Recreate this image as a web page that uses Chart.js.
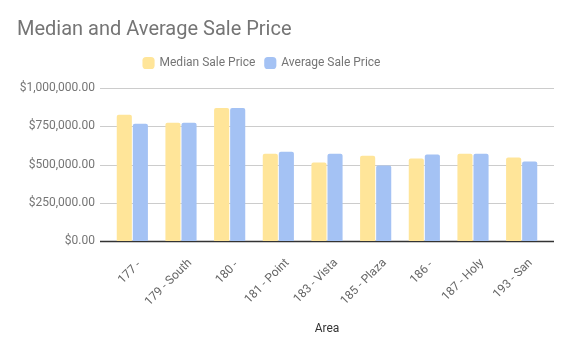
<!DOCTYPE html>
<html>
<head>
<meta charset="utf-8">
<script src="https://cdn.jsdelivr.net/npm/chart.js@4"></script>
<style>
  html, body { margin: 0; padding: 0; background: #fff; }
  #wrap { width: 572px; height: 354px; }
</style>
</head>
<body>
<div id="wrap"><canvas id="chart" width="572" height="354"></canvas></div>
<script>
const areas = ["177 - ", "179 - South", "180 - ", "181 - Point", "183 - Vista", "185 - Plaza", "186 - ", "187 - Holy", "193 - San"];
const medianPrice = [825000, 773000, 870000, 571000, 513000, 558000, 539000, 571000, 545000];
const averagePrice = [766000, 773000, 870000, 584000, 571000, 494000, 565000, 571000, 519000];

const money = (v) => "$" + v.toLocaleString("en-US", { minimumFractionDigits: 2, maximumFractionDigits: 2 });

// gridlines in Sheets run a little past the first and last bar group
const sheetGrid = {
  id: "sheetGrid",
  beforeDatasetsDraw(chart) {
    const { ctx, chartArea } = chart;
    const y = chart.scales.y;
    ctx.save();
    y.ticks.forEach((t) => {
      const py = Math.round(y.getPixelForValue(t.value)) + 0.5;
      ctx.beginPath();
      ctx.strokeStyle = t.value === 0 ? "#333333" : "#cccccc";
      ctx.lineWidth = t.value === 0 ? 1.5 : 1;
      ctx.moveTo(chartArea.left - 8, py);
      ctx.lineTo(chartArea.right + 8, py);
      ctx.stroke();
    });
    ctx.restore();
  },
};

// more room under the legend than above it, title a bit further in,
// legend centred a little left like in Sheets
const sheetLayout = {
  id: "sheetLayout",
  beforeInit(chart) {
    const fit = chart.legend.fit;
    chart.legend.fit = function () {
      fit.bind(chart.legend)();
      this.height += 9;
    };
  },
  afterLayout(chart) {
    chart.titleBlock.left += 5;
    chart.legend.left -= 17;
    chart.legend.right -= 17;
  },
};

const config = {
  type: "bar",
  data: {
    labels: areas,
    datasets: [
      {
        label: "Median Sale Price",
        data: medianPrice,
        backgroundColor: "#ffe599",
        borderRadius: { topLeft: 2, topRight: 2 },
        borderSkipped: "bottom",
      },
      {
        label: "Average Sale Price",
        data: averagePrice,
        backgroundColor: "#a4c2f4",
        borderRadius: { topLeft: 2, topRight: 2 },
        borderSkipped: "bottom",
      },
    ],
  },
  options: {
    responsive: false,
    animation: false,
    datasets: { bar: { categoryPercentage: 0.66, barPercentage: 0.94 } },
    layout: { padding: { left: 12, right: 26, top: 0, bottom: 0 } },
    plugins: {
      title: {
        display: true,
        text: "Median and Average Sale Price",
        align: "start",
        color: "#757575",
        font: { family: "Roboto", size: 20, weight: "normal", lineHeight: 1 },
        padding: { top: 20, bottom: 7 },
      },
      legend: {
        display: true,
        labels: {
          color: "#757575",
          font: { family: "Roboto", size: 12 },
          boxWidth: 10,
          boxHeight: 10,
          usePointStyle: true,
          pointStyle: "rectRounded",
          padding: 10,
        },
      },
      tooltip: { enabled: false },
    },
    scales: {
      x: {
        grid: { display: false, drawTicks: false },
        border: { display: false },
        ticks: {
          color: "#666666",
          font: { family: "Roboto", size: 12 },
          minRotation: 45,
          maxRotation: 45,
          autoSkip: false,
          labelOffset: 9,
          padding: 15,
        },
        title: {
          display: true,
          text: "Area",
          color: "#333333",
          font: { family: "Roboto", size: 12 },
          padding: { top: 0, bottom: 18 },
        },
        afterFit(scale) { scale.height = 113; },
      },
      y: {
        min: 0,
        max: 1000000,
        grid: { display: false, drawTicks: false },
        border: { display: false },
        ticks: {
          stepSize: 250000,
          color: "#757575",
          font: { family: "Roboto", size: 12 },
          padding: 13,
          callback: (v) => money(v),
        },
        afterFit(scale) { scale.width = 96; },
      },
    },
  },
  plugins: [sheetGrid, sheetLayout],
};

new Chart(document.getElementById("chart").getContext("2d"), config);
</script>
</body>
</html>
